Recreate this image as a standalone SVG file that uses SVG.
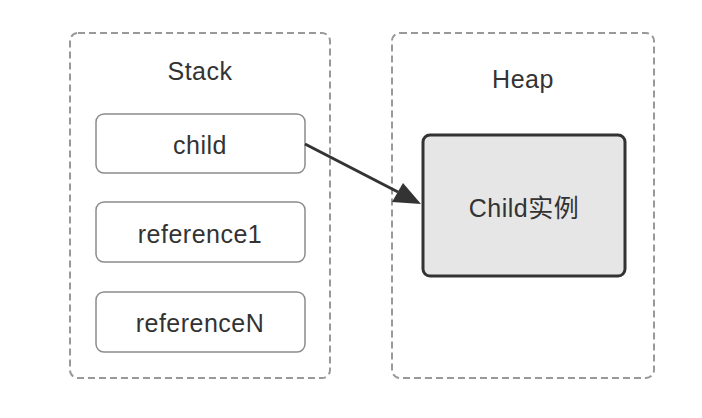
<svg xmlns="http://www.w3.org/2000/svg" width="702" height="418" viewBox="0 0 702 418">
<style>
text{font-family:"Liberation Sans","Noto Sans CJK SC",sans-serif;font-size:25px;letter-spacing:0.5px;fill:#333;text-anchor:middle}
.region{fill:#fff;stroke:#999;stroke-width:2;stroke-dasharray:7,4}
.cell{fill:#fff;stroke:#8c8c8c;stroke-width:1.5}
.inst{fill:#e6e6e6;stroke:#333;stroke-width:3}
.conn{stroke:#333;stroke-width:3;fill:none}
</style>
<rect width="702" height="418" fill="#fff"/>
<g id="stack">
<rect class="region" x="70" y="33" width="260" height="345" rx="8"/>
<text x="200" y="80">Stack</text>
</g>
<g id="heap">
<rect class="region" x="392" y="33" width="262" height="345" rx="8"/>
<text x="523" y="88">Heap</text>
</g>
<g id="child">
<rect class="cell" x="96" y="114" width="209" height="59" rx="8"/>
<text x="200" y="154">child</text>
</g>
<g id="reference1">
<rect class="cell" x="96" y="202" width="209" height="60" rx="8"/>
<text x="200" y="243">reference1</text>
</g>
<g id="referenceN">
<rect class="cell" x="96" y="292" width="209" height="60" rx="8"/>
<text x="200" y="332">referenceN</text>
</g>
<g id="childInstance">
<rect class="inst" x="423" y="135" width="202" height="141" rx="7"/>
<text x="524" y="217">Child实例</text>
</g>
<g id="connectors">
<path class="conn" d="M305,144 L398,192"/>
<path d="M421,204 L392,202 L403,183 z" fill="#333"/>
</g>
</svg>
